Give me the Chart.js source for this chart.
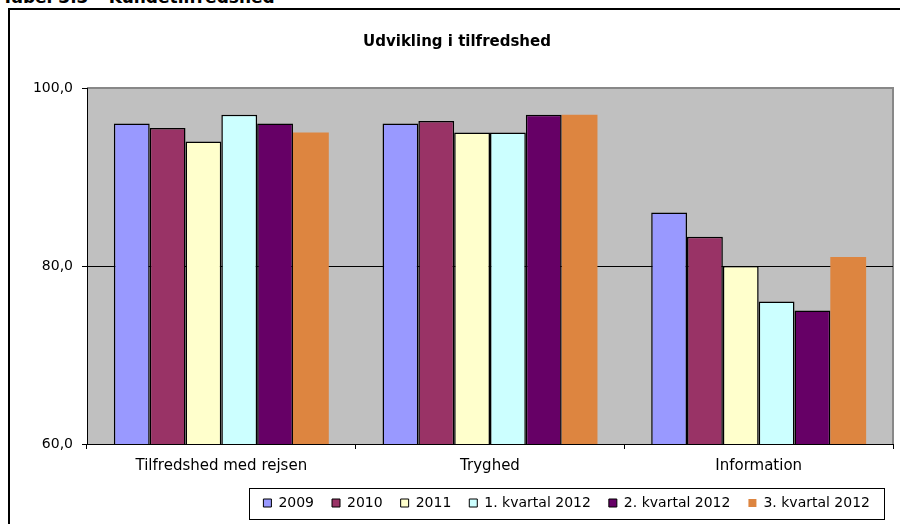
<!DOCTYPE html>
<html>
<head>
<meta charset="utf-8">
<script src="https://cdn.jsdelivr.net/npm/chart.js@4/dist/chart.umd.min.js"></script>
<style>
  html, body { margin: 0; padding: 0; background: #fff; }
  #wrap { position: relative; width: 900px; height: 524px; overflow: hidden; }
  #caption { position: absolute; left: 2px; top: -11px; font: bold 17px/17px "DejaVu Sans", sans-serif; color: #000; white-space: nowrap; }
  #frame { position: absolute; left: 8px; top: 8px; width: 1000px; height: 1000px; border: 2px solid #000; box-sizing: border-box; }
  canvas { position: absolute; left: 0; top: 0; }
</style>
</head>
<body>
<div id="wrap">
  <div id="caption">Tabel 3.3 – Kundetilfredshed</div>
  <div id="frame"></div>
  <canvas id="chart" width="900" height="524"></canvas>
</div>
<script>
// Categories and series (satisfaction scores)
const categories = ['Tilfredshed med rejsen', 'Tryghed', 'Information'];
const seriesNames = ['2009', '2010', '2011', '1. kvartal 2012', '2. kvartal 2012', '3. kvartal 2012'];
const values2009 = [96.0, 96.0, 86.0];
const values2010 = [95.5, 96.3, 83.3];
const values2011 = [94.0, 95.0, 80.0];
const valuesQ1_2012 = [97.0, 95.0, 76.0];
const valuesQ2_2012 = [96.0, 97.0, 75.0];
const valuesQ3_2012 = [95.0, 97.0, 81.0];
const yTickValues = [60, 80, 100];

const seriesValues = [values2009, values2010, values2011, valuesQ1_2012, valuesQ2_2012, valuesQ3_2012];
const seriesColors = ['#9999ff', '#993366', '#ffffcc', '#ccffff', '#660066', '#dd8540'];
const seriesBorders = [1.5, 1.5, 1.5, 1.5, 1.5, 0];

const FONT = '"DejaVu Sans", Verdana, sans-serif';
const LEGEND_SHIFT = -5;

// Grey plot background with a grey frame on top and right
const plotBackground = {
  id: 'plotBackground',
  beforeDraw(chart) {
    const { ctx, chartArea: a } = chart;
    ctx.save();
    ctx.fillStyle = '#c0c0c0';
    ctx.fillRect(a.left, a.top, a.right - a.left, a.bottom - a.top);
    ctx.strokeStyle = '#888888';
    ctx.lineWidth = 2;
    ctx.beginPath();
    ctx.moveTo(a.left, a.top);
    ctx.lineTo(a.right, a.top);
    ctx.lineTo(a.right, a.bottom);
    ctx.stroke();
    ctx.restore();
  }
};

// Nudge the legend a little to the left of the plot's right edge
const legendNudge = {
  id: 'legendNudge',
  afterLayout(chart) {
    const lg = chart.legend;
    if (!lg) return;
    lg.left += LEGEND_SHIFT;
    lg.right += LEGEND_SHIFT;
    (lg.legendHitBoxes || []).forEach(b => { b.left += LEGEND_SHIFT; });
  }
};

// Frame around the legend items
const legendFrame = {
  id: 'legendFrame',
  afterDraw(chart) {
    const boxes = chart.legend && chart.legend.legendHitBoxes;
    if (!boxes || !boxes.length) return;
    let minX = Infinity, maxX = -Infinity, minY = Infinity, maxY = -Infinity;
    boxes.forEach(b => {
      minX = Math.min(minX, b.left); maxX = Math.max(maxX, b.left + b.width);
      minY = Math.min(minY, b.top); maxY = Math.max(maxY, b.top + b.height);
    });
    const { ctx } = chart;
    const cy = (minY + maxY) / 2;
    ctx.save();
    ctx.strokeStyle = '#000';
    ctx.lineWidth = 1;
    ctx.strokeRect(Math.round(minX - 14) + 0.5, Math.round(cy - 15.5) + 0.5,
                   Math.round(maxX - minX + 28), 31);
    ctx.restore();
  }
};

new Chart(document.getElementById('chart'), {
  type: 'bar',
  data: {
    labels: categories,
    datasets: seriesNames.map((name, i) => ({
      label: name,
      data: seriesValues[i],
      backgroundColor: seriesColors[i],
      borderColor: '#000',
      borderWidth: seriesBorders[i],
      borderSkipped: 'bottom',
      categoryPercentage: 0.80,
      barPercentage: 1.0
    }))
  },
  options: {
    responsive: false,
    animation: false,
    devicePixelRatio: 1,
    layout: { padding: { left: 21, right: 7, top: 0, bottom: 4 } },
    plugins: {
      title: {
        display: true,
        text: 'Udvikling i tilfredshed',
        color: '#000',
        font: { family: FONT, size: 15, weight: 'bold' },
        padding: { top: 33, bottom: 37 }
      },
      legend: {
        position: 'bottom',
        align: 'end',
        labels: {
          color: '#000',
          font: { family: FONT, size: 14 },
          boxWidth: 8,
          boxHeight: 8,
          padding: 18,
          generateLabels(chart) {
            return chart.data.datasets.map((ds, i) => ({
              text: ds.label,
              fillStyle: ds.backgroundColor,
              strokeStyle: '#000',
              lineWidth: ds.borderWidth ? 1 : 0,
              hidden: false,
              datasetIndex: i
            }));
          }
        }
      },
      tooltip: { enabled: false }
    },
    scales: {
      x: {
        offset: true,
        afterFit(scale) { scale.height = 34; },
        grid: {
          offset: true,
          drawOnChartArea: false,
          drawTicks: true,
          tickLength: 5,
          tickColor: '#000',
          color: '#000'
        },
        border: { display: true, color: '#000', width: 1 },
        ticks: {
          color: '#000',
          font: { family: FONT, size: 15 },
          padding: 8
        }
      },
      y: {
        min: 60,
        max: 100,
        afterBuildTicks(scale) { scale.ticks = yTickValues.map(v => ({ value: v })); },
        afterFit(scale) { scale.width = 66; },
        grid: {
          color: ctx => (ctx.tick && ctx.tick.value === 100) ? '#888888' : '#000',
          lineWidth: 1,
          drawTicks: true,
          tickLength: 5,
          tickColor: '#000'
        },
        border: { display: true, color: '#000', width: 1 },
        ticks: {
          color: '#000',
          font: { family: FONT, size: 14 },
          padding: 9,
          callback: v => v.toFixed(1).replace('.', ',')
        }
      }
    }
  },
  plugins: [plotBackground, legendNudge, legendFrame]
});
</script>
</body>
</html>
